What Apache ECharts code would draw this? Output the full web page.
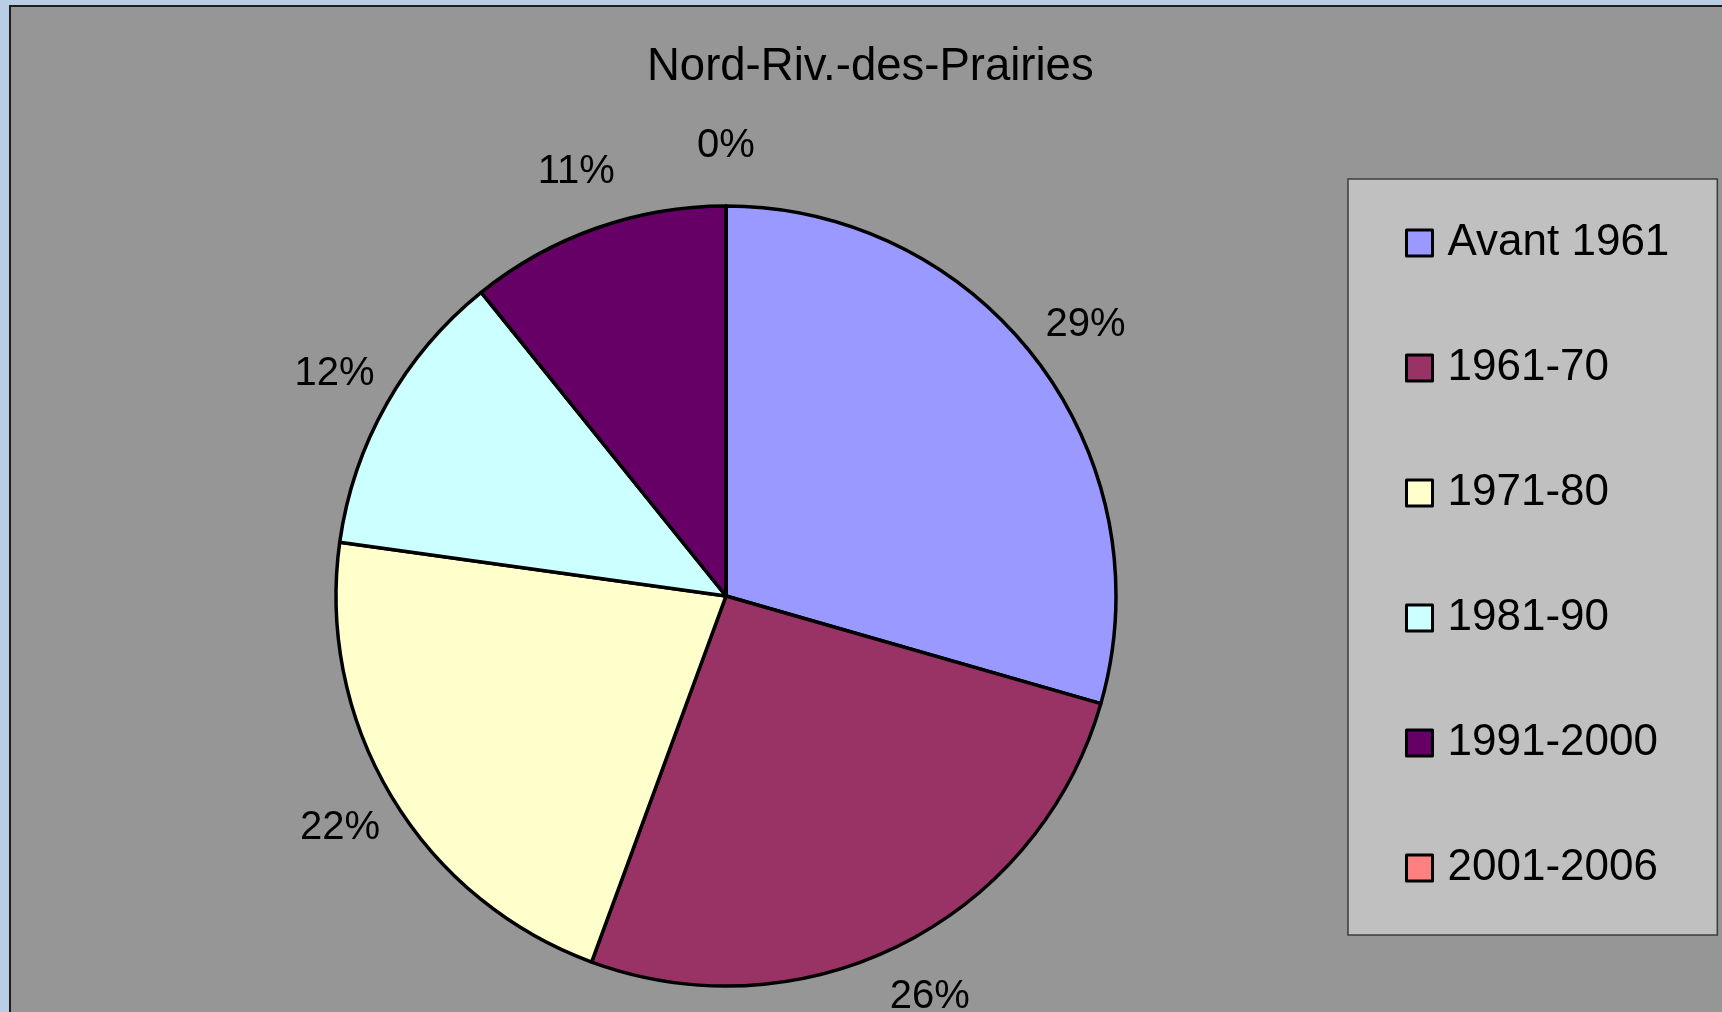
<!DOCTYPE html>
<html>
<head>
<meta charset="utf-8">
<title>Nord-Riv.-des-Prairies</title>
<script src="https://cdn.jsdelivr.net/npm/echarts@6/dist/echarts.min.js"></script>
<style>
    html, body { margin: 0; padding: 0; width: 1722px; height: 1012px; overflow: hidden; background: #b9cde5; }
    #frame { position: absolute; left: 9px; top: 5px; width: 1713px; height: 1007px; box-sizing: border-box;
             background: #969696; border-top: 2px solid #1e1e1e; border-left: 2px solid #1e1e1e; }
    #chart { width: 100%; height: 100%; }
</style>
</head>
<body>
<div id="frame"><div id="chart"></div></div>
<script>
// periodes de construction et part des logements (%)
var periodes = ['Avant 1961', '1961-70', '1971-80', '1981-90', '1991-2000', '2001-2006'];
var parts = [29.45, 26.15, 21.6, 12.0, 10.8, 0];

var couleurs = ['#9999ff', '#993366', '#ffffcc', '#ccffff', '#660066', '#ff8080'];
var police = "'Liberation Sans', Arial, sans-serif";

var pieData = periodes.map(function (nom, i) {
    return { name: nom, value: parts[i] };
});

var myChart = echarts.init(document.getElementById('chart'));

var option = {
    animation: false,
    color: couleurs,
    title: {
        text: 'Nord-Riv.-des-Prairies',
        left: 636,
        top: 37,
        padding: 0,
        textStyle: { fontSize: 45.5, lineHeight: 46, fontWeight: 'normal', color: '#000', fontFamily: police }
    },
    legend: {
        orient: 'vertical',
        left: 1337,
        top: 172,
        backgroundColor: '#c0c0c0',
        borderColor: '#3c3c3c',
        borderWidth: 1.5,
        borderRadius: 0,
        padding: [42, 48, 45, 57],
        itemWidth: 26,
        itemHeight: 26,
        itemGap: 81,
        icon: 'rect',
        selectedMode: false,
        itemStyle: { borderColor: '#000', borderWidth: 3 },
        textStyle: { fontSize: 44, lineHeight: 44, color: '#000', fontFamily: police, padding: [0, 0, 0, 10] },
        data: periodes
    },
    series: [
        {
            // les parts
            type: 'pie',
            center: [715, 589],
            radius: 390,
            startAngle: 90,
            clockwise: true,
            silent: true,
            itemStyle: { borderColor: '#000', borderWidth: 3.5 },
            label: { show: false },
            labelLine: { show: false },
            data: pieData
        },
        {
            // etiquettes centrees autour du disque
            type: 'pie',
            center: [715, 589],
            radius: [0, 894],
            startAngle: 90,
            clockwise: true,
            silent: true,
            itemStyle: { color: 'transparent', borderWidth: 0 },
            label: {
                show: true,
                position: 'inside',
                fontSize: 40,
                color: '#000',
                fontFamily: police,
                formatter: function (p) { return Math.round(p.value) + '%'; }
            },
            labelLine: { show: false },
            data: pieData
        }
    ]
};

myChart.setOption(option);
</script>
</body>
</html>
